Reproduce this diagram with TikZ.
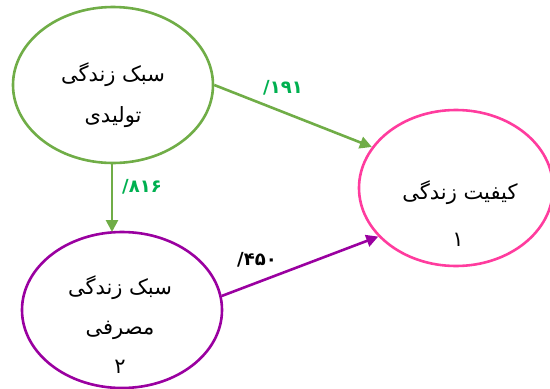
\documentclass[tikz,border=0pt]{standalone}
\usepackage{fontspec}
\usetikzlibrary{shapes.geometric,arrows.meta}
\TeXXeTstate=1
\newfontfamily\arabicfont[Script=Arabic]{DejaVu Sans}
\newfontfamily\slashfont{DejaVu Sans}
\definecolor{cgreen}{HTML}{70AD47}
\definecolor{cpurple}{HTML}{9A00A0}
\definecolor{cpink}{HTML}{FF3C9E}
\definecolor{clabel}{HTML}{00B050}
\tikzset{
  oval/.style={ellipse, draw, line width=2.6pt, minimum width=200pt, minimum height=156pt, inner sep=0pt},
  txt/.style={font=\arabicfont\fontsize{21}{23}\selectfont, inner sep=0pt},
  lbl/.style={font=\arabicfont\bfseries\fontsize{18}{20}\selectfont, inner sep=0pt},
  arr/.style={line width=2.6pt, -{Triangle[length=12pt,width=12pt]}}
}
\begin{document}
\begin{tikzpicture}[x=1pt,y=-1pt]
\useasboundingbox (0,0) rectangle (550,389);
\node[oval, draw=cgreen] (e1) at (113,85) {};
\node[oval, draw=cpurple] (e2) at (122,310) {};
\node[oval, draw=cpink, minimum width=194pt] (e3) at (456,188) {};
\node[txt] (t1a) at (113,75) {\beginR سبک زندگی\endR};
\node[txt] (t1b) at (113,117) {\beginR تولیدی\endR};
\node[txt] (t2a) at (120,288) {\beginR سبک زندگی\endR};
\node[txt] (t2b) at (120,330) {\beginR مصرفی\endR};
\node[txt] (t2c) at (120,367) {۲};
\node[txt] (t3a) at (460,193) {\beginR کیفیت زندگی\endR};
\node[txt] (t3b) at (458,240) {۱};
\coordinate (v2) at (112,232);
\draw[arr, cgreen] (e1.east) -- (e3.154);
\draw[arr, cgreen] (e1.south -| v2) -- (v2);
\draw[arr, cpurple] (e2.8) -- (e3.212);
\node[lbl, text=clabel] (l1) at (283,88) {{\slashfont\bfseries /}۱۹۱};
\node[lbl, text=clabel] (l2) at (142,187) {{\slashfont\bfseries /}۸۱۶};
\node[lbl] (l3) at (257,260) {{\slashfont\bfseries /}۴۵۰};
\end{tikzpicture}
\end{document}
